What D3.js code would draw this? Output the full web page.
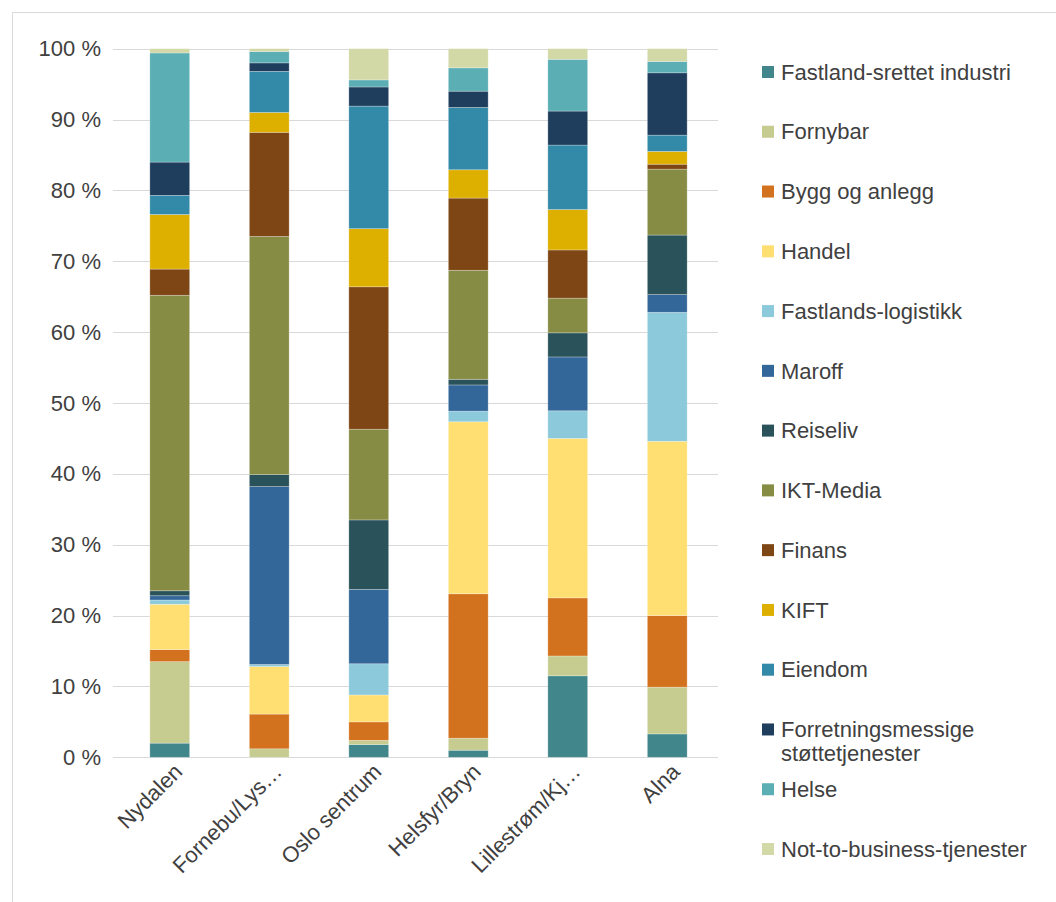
<!DOCTYPE html>
<html>
<head>
<meta charset="utf-8">
<script src="https://cdn.jsdelivr.net/npm/d3@7"></script>
<style>
  html, body { margin: 0; padding: 0; background: #fff; }
  svg { display: block; }
  text { font-family: "Liberation Sans", Arial, sans-serif; fill: #404040; }
</style>
</head>
<body>
<svg id="chart" width="1056" height="902"></svg>
<script>
// Regions (x categories) and their displayed labels
const regions = ["Nydalen", "Fornebu/Lysaker", "Oslo sentrum", "Helsfyr/Bryn", "Lillestrøm/Kjeller", "Alna"];
const regionLabels = ["Nydalen", "Fornebu/Lys…", "Oslo sentrum", "Helsfyr/Bryn", "Lillestrøm/Kj…", "Alna"];

// Sectors, stacked from the bottom up
const sectors = [
  "Fastland-srettet industri", "Fornybar", "Bygg og anlegg", "Handel", "Fastlands-logistikk",
  "Maroff", "Reiseliv", "IKT-Media", "Finans", "KIFT", "Eiendom",
  "Forretningsmessige støttetjenester", "Helse", "Not-to-business-tjenester"
];
const sectorColors = [
  "#41868A", "#C6CC90", "#D3721E", "#FFDF72", "#8CC9DB",
  "#336699", "#29525A", "#878C44", "#7E4614", "#DDB000", "#3289A8",
  "#1F3E5E", "#5AAEB4", "#D2D8A6"
];

// Share (%) per sector, one array per sector in region order
const fastlandIndustri = [2.0, 0.0, 1.8, 1.0, 11.5, 3.3];
const fornybar        = [11.5, 1.2, 0.6, 1.7, 2.8, 6.6];
const byggAnlegg      = [1.7, 4.9, 2.6, 20.4, 8.2, 10.1];
const handel          = [6.4, 6.7, 3.8, 24.3, 22.5, 24.6];
const logistikk       = [0.6, 0.3, 4.4, 1.5, 3.9, 18.2];
const maroff          = [0.6, 25.1, 10.5, 3.7, 7.6, 2.5];
const reiseliv        = [0.7, 1.7, 9.8, 0.8, 3.4, 8.4];
const iktMedia        = [41.7, 33.6, 12.8, 15.4, 4.9, 9.3];
const finans          = [3.7, 14.7, 20.1, 10.2, 6.8, 0.7];
const kift            = [7.7, 2.8, 8.2, 4.0, 5.7, 1.8];
const eiendom         = [2.7, 5.8, 17.3, 8.8, 9.1, 2.3];
const forretning      = [4.7, 1.2, 2.7, 2.3, 4.8, 8.8];
const helse           = [15.4, 1.6, 1.0, 3.3, 7.3, 1.6];
const notToBusiness   = [0.6, 0.4, 4.4, 2.7, 1.5, 1.8];

const seriesValues = [fastlandIndustri, fornybar, byggAnlegg, handel, logistikk, maroff,
  reiseliv, iktMedia, finans, kift, eiendom, forretning, helse, notToBusiness];

const yTicks = [0, 10, 20, 30, 40, 50, 60, 70, 80, 90, 100];

const FONT = 22;

// Build a row table for d3.stack, normalised to 100 %
const rows = regions.map((r, i) => {
  const row = { region: r };
  const total = d3.sum(seriesValues, s => s[i]);
  sectors.forEach((s, k) => { row[s] = seriesValues[k][i] / total * 100; });
  return row;
});

const svg = d3.select("#chart");

// Outer frame (right and bottom edges run off the canvas)
svg.append("rect")
  .attr("x", 12.5).attr("y", 12.5)
  .attr("width", 1100).attr("height", 1000)
  .attr("fill", "none").attr("stroke", "#D9D9D9").attr("stroke-width", 1);

const x = d3.scaleBand().domain(regions).range([120, 717]).paddingInner(0.6).paddingOuter(0.3);
const y = d3.scaleLinear().domain([0, 100]).range([757.3, 48.7]);

// Horizontal gridlines
svg.append("g")
  .selectAll("line")
  .data(yTicks)
  .join("line")
  .attr("x1", 113).attr("x2", 718)
  .attr("y1", d => Math.round(y(d)) + 0.5).attr("y2", d => Math.round(y(d)) + 0.5)
  .attr("stroke", "#D9D9D9").attr("stroke-width", 1);

// Y axis labels
const yAxis = d3.axisLeft(y).tickValues(yTicks).tickSize(0).tickPadding(0)
  .tickFormat(d => d + " %");
svg.append("g")
  .attr("transform", "translate(101,0)")
  .call(yAxis)
  .call(g => g.select(".domain").remove())
  .call(g => g.selectAll("text")
    .attr("font-size", FONT)
    .attr("font-family", "Liberation Sans, Arial, sans-serif")
    .attr("fill", "#404040"));

// Stacked bars
const stack = d3.stack().keys(sectors)(rows);
svg.append("g")
  .selectAll("g")
  .data(stack)
  .join("g")
  .attr("fill", (d, i) => sectorColors[i])
  .selectAll("rect")
  .data(d => d)
  .join("rect")
  .attr("x", d => x(d.data.region))
  .attr("width", x.bandwidth())
  .attr("y", d => y(d[1]))
  .attr("height", d => Math.max(0, y(d[0]) - y(d[1])))
  .attr("stroke", "rgba(255,255,255,0.35)")
  .attr("stroke-width", 0.75);

// X axis labels, rotated
const xAxis = d3.axisBottom(x).tickSize(0).tickPadding(0)
  .tickFormat((d, i) => regionLabels[i]);
svg.append("g")
  .attr("transform", "translate(0,757)")
  .call(xAxis)
  .call(g => g.select(".domain").remove())
  .call(g => g.selectAll("text")
    .attr("font-size", FONT)
    .attr("font-family", "Liberation Sans, Arial, sans-serif")
    .attr("fill", "#404040")
    .attr("text-anchor", "end")
    .attr("dy", 0)
    .attr("transform", "translate(14,16) rotate(-45)"));

// Legend
const legendY = d3.scalePoint().domain(sectors).range([72, 849]);
const legend = svg.append("g")
  .selectAll("g")
  .data(sectors)
  .join("g")
  .attr("transform", d => `translate(762,${legendY(d)})`);
legend.append("rect")
  .attr("x", 0).attr("y", -6).attr("width", 12).attr("height", 12)
  .attr("fill", (d, i) => sectorColors[i]);
legend.append("text")
  .attr("x", 19).attr("y", 0).attr("dy", "0.35em")
  .attr("font-size", FONT)
  .each(function (d) {
    const t = d3.select(this);
    if (d === "Forretningsmessige støttetjenester") {
      t.append("tspan").attr("x", 19).text("Forretningsmessige");
      t.append("tspan").attr("x", 19).attr("dy", 24).text("støttetjenester");
    } else {
      t.text(d);
    }
  });
</script>
</body>
</html>
